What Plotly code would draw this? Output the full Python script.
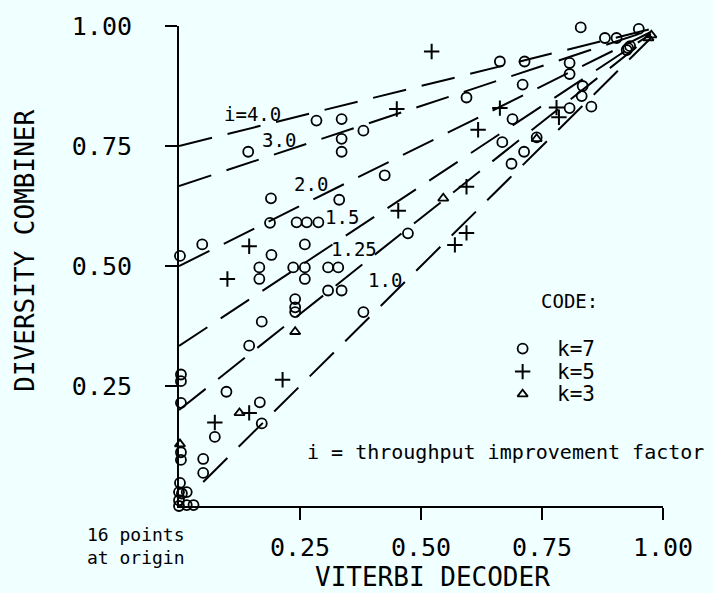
import plotly.graph_objects as go

# ---- data ----
k7_x = [0.284, 0.336, 0.381, 0.336, 0.336, 0.143, 0.425, 0.190, 0.331, 0.188,
        0.243, 0.264, 0.288, 0.048, 0.002, 0.260, 0.191, 0.166, 0.166, 0.236,
        0.260, 0.260, 0.308, 0.329, 0.308, 0.336, 0.240, 0.240, 0.240, 0.171,
        0.145, 0.473, 0.381, 0.830, 0.880, 0.904, 0.950, 0.974, 0.974, 1.000,
        0.928, 0.925, 0.932, 0.663, 0.714, 0.807, 0.807, 0.710, 0.594, 0.834,
        0.832, 0.807, 0.852, 0.689, 0.668, 0.739, 0.713, 0.687, 0.098, 0.167,
        0.171, 0.074, 0.004, 0.004, 0.004, 0.004, 0.004, 0.050, 0.050, 0.002,
        0.000, 0.006, 0.016, 0.000, 0.000, 0.016, 0.030]
k7_y = [0.803, 0.806, 0.782, 0.765, 0.738, 0.738, 0.689, 0.641, 0.638, 0.590,
        0.591, 0.591, 0.591, 0.545, 0.521, 0.545, 0.523, 0.497, 0.473, 0.497,
        0.497, 0.473, 0.497, 0.497, 0.449, 0.449, 0.431, 0.414, 0.404, 0.384,
        0.334, 0.568, 0.404, 0.997, 0.975, 0.975, 0.994, 1.010, 1.001, 1.006,
        0.954, 0.950, 0.958, 0.926, 0.926, 0.923, 0.900, 0.878, 0.851, 0.875,
        0.854, 0.829, 0.832, 0.806, 0.758, 0.768, 0.738, 0.713, 0.238, 0.216,
        0.172, 0.144, 0.274, 0.260, 0.215, 0.112, 0.096, 0.098, 0.069, 0.048,
        0.029, 0.026, 0.029, 0.012, 0.000, 0.002, 0.002]

k5_x = [0.450, 0.453, 0.145, 0.100, 0.522, 0.663, 0.780, 0.785, 0.618, 0.594,
        0.594, 0.570, 0.214, 0.145, 0.074]
k5_y = [0.827, 0.615, 0.541, 0.473, 0.947, 0.829, 0.830, 0.810, 0.784, 0.665,
        0.569, 0.544, 0.263, 0.194, 0.174]

k3_x = [0.240, 0.125, 0.546, 0.739, 0.976, 0.970, 0.002]
k3_y = [0.363, 0.194, 0.641, 0.765, 0.981, 0.975, 0.129]

# throughput improvement factor guide lines
line_i = [4.0, 3.0, 2.0, 1.5, 1.25, 1.0]
line_x0 = [0.0, 0.0, 0.0, 0.0, 0.0, 0.05]
line_x1 = 0.975
line_labels = ["i=4.0", "3.0", "2.0", "1.5", "1.25", "1.0"]
label_x = [0.151, 0.206, 0.273, 0.337, 0.361, 0.425]
label_y = [0.816, 0.763, 0.670, 0.602, 0.536, 0.470]

tick_vals = [0.25, 0.50, 0.75, 1.00]
tick_text = ["0.25", "0.50", "0.75", "1.00"]

legend_names = ["k=7", "k=5", "k=3"]
legend_x = 0.710
legend_y = [0.328, 0.280, 0.233]

FONT = "DejaVu Sans Mono"
BG = "#F0FFFF"

fig = go.Figure()

for i, x0 in zip(line_i, line_x0):
    xs = [x0, line_x1]
    ys = [1 - (1 - x) / i for x in xs]
    fig.add_trace(go.Scatter(x=xs, y=ys, mode="lines",
                             line=dict(color="black", width=2, dash="34px,16px"),
                             hoverinfo="skip", showlegend=False))

sym = dict(k7=dict(symbol="circle-open", size=10, line=dict(color="black", width=1.8)),
           k5=dict(symbol="cross-thin-open", size=11, line=dict(color="black", width=2)),
           k3=dict(symbol="triangle-up-open", size=9, line=dict(color="black", width=1.8)))

fig.add_trace(go.Scatter(x=k7_x, y=k7_y, mode="markers", marker=dict(color="black", **sym["k7"]),
                         cliponaxis=False, showlegend=False, name="k=7"))
fig.add_trace(go.Scatter(x=k5_x, y=k5_y, mode="markers", marker=dict(color="black", **sym["k5"]),
                         cliponaxis=False, showlegend=False, name="k=5"))
fig.add_trace(go.Scatter(x=k3_x, y=k3_y, mode="markers", marker=dict(color="black", **sym["k3"]),
                         cliponaxis=False, showlegend=False, name="k=3"))

# legend keys
for key, yy in zip(["k7", "k5", "k3"], legend_y):
    fig.add_trace(go.Scatter(x=[legend_x], y=[yy], mode="markers",
                             marker=dict(color="black", **sym[key]),
                             cliponaxis=False, showlegend=False, hoverinfo="skip"))

# screen pixel -> paper helpers (plot area: x 179..663, y 21..506)
def px(x):
    return (x - 179) / 484.0


def py(y):
    return (506 - y) / 485.0


def txt(size):
    return dict(family=FONT, size=size, color="black")


ann = []
for t, x, y in zip(line_labels, label_x, label_y):
    ann.append(dict(x=x, y=y, xref="x", yref="y", text=t, showarrow=False,
                    xanchor="center", yanchor="middle", font=txt(19)))
for t, y in zip(legend_names, legend_y):
    ann.append(dict(x=legend_x + 0.066, y=y, xref="x", yref="y", text=t, showarrow=False,
                    xanchor="left", yanchor="middle", font=txt(21)))
ann.append(dict(x=px(569), y=py(299), xref="paper", yref="paper", text="CODE:",
                showarrow=False, xanchor="center", yanchor="middle", font=txt(19)))
ann.append(dict(x=px(305), y=py(451), xref="paper", yref="paper",
                text="i = throughput improvement factor", showarrow=False,
                xanchor="left", yanchor="middle", font=txt(20)))
ann.append(dict(x=px(85), y=py(546), xref="paper", yref="paper",
                text="16 points<br>at origin", showarrow=False, xanchor="left",
                yanchor="middle", align="left", font=txt(18)))
ann.append(dict(x=px(432), y=py(578), xref="paper", yref="paper",
                text="VITERBI DECODER", showarrow=False,
                xanchor="center", yanchor="middle", font=txt(26)))
ann.append(dict(x=px(25), y=py(248), xref="paper", yref="paper",
                text="DIVERSITY COMBINER", showarrow=False, textangle=-90,
                xanchor="center", yanchor="middle", font=txt(26)))

axis_common = dict(range=[0, 1], showgrid=False, zeroline=False, showline=True,
                   linecolor="black", linewidth=2, ticks="outside", ticklen=12,
                   tickwidth=2, tickcolor="black", tickvals=tick_vals, ticktext=tick_text,
                   tickfont=txt(25), ticklabeloverflow="allow")

fig.update_layout(
    width=713, height=593,
    margin=dict(l=179, r=50, t=21, b=87),
    paper_bgcolor=BG, plot_bgcolor=BG,
    xaxis=dict(**axis_common, ticklabelstandoff=6),
    yaxis=dict(**axis_common, ticklabelstandoff=28),
    annotations=ann,
    showlegend=False,
)

fig.write_html("out.html", config={"displayModeBar": False},
               post_script="document.body.style.margin='0';document.body.style.background='" + BG + "';")
